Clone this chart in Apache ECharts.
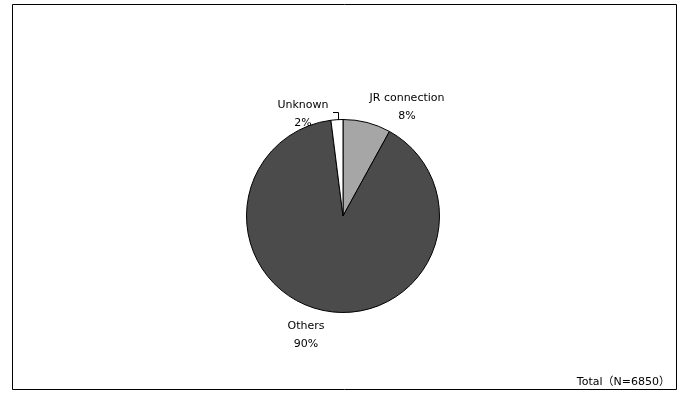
<!DOCTYPE html>
<html>
<head>
<meta charset="utf-8">
<script src="https://cdn.jsdelivr.net/npm/echarts@6/dist/echarts.min.js"></script>
<style>
  html, body { margin: 0; padding: 0; background: #ffffff; }
  #chart { width: 680px; height: 396px; }
</style>
</head>
<body>
<div id="chart"></div>
<script>
// Share of trips by connection type (percent)
const categories = ['JR connection', 'Others', 'Unknown'];
const shares = [8, 90, 2];
const sliceColors = ['#a6a6a6', '#4b4b4b', '#ffffff'];
const totalNote = 'Total（N=6850）';

const FONT = '"DejaVu Sans", "Noto Sans CJK JP", sans-serif';

// Label anchor points (centre of each two-line label)
const labelSpots = {
  'JR connection': { x: 407, y: 107 },
  'Others': { x: 306, y: 335 },
  'Unknown': { x: 303, y: 114 }
};

const chart = echarts.init(document.getElementById('chart'), null, { renderer: 'canvas' });

chart.setOption({
  backgroundColor: '#ffffff',
  animation: false,
  graphic: [
    {
      type: 'rect',
      shape: { x: 12.5, y: 4.5, width: 664, height: 385 },
      style: { fill: 'none', stroke: '#000000', lineWidth: 1 }
    },
    {
      type: 'text',
      right: 10,
      bottom: 8,
      style: { text: totalNote, font: '11px ' + FONT, fill: '#000000' }
    }
  ],
  series: [{
    type: 'pie',
    center: [343, 216],
    radius: 96.5,
    startAngle: 90,
    clockwise: true,
    itemStyle: { borderColor: '#000000', borderWidth: 1 },
    label: {
      show: true,
      formatter: '{b}\n{d}%',
      fontFamily: FONT,
      fontSize: 11,
      lineHeight: 18,
      color: '#000000',
      align: 'center'
    },
    labelLine: { show: false },
    labelLayout: function (params) {
      const name = categories[params.dataIndex];
      const spot = labelSpots[name];
      const out = { x: spot.x, y: spot.y, align: 'center', verticalAlign: 'middle' };
      if (name === 'Unknown') {
        out.labelLinePoints = [[333, 112.5], [338.5, 112.5], [338.5, 121]];
      }
      return out;
    },
    emphasis: { disabled: true },
    data: categories.map((name, i) => ({
      name: name,
      value: shares[i],
      itemStyle: { color: sliceColors[i] },
      labelLine: name === 'Unknown'
        ? { show: true, lineStyle: { color: '#000000', width: 1 } }
        : { show: false }
    }))
  }]
});
</script>
</body>
</html>
